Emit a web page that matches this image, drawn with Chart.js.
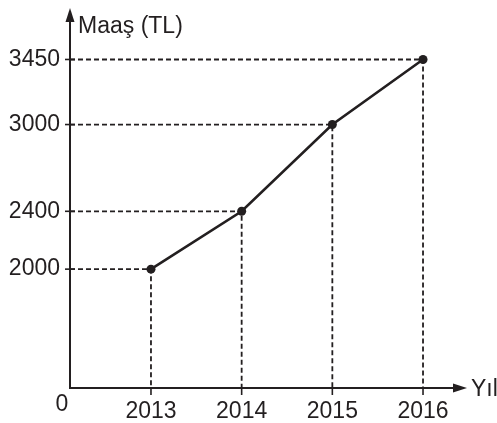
<!DOCTYPE html>
<html>
<head>
<meta charset="utf-8">
<script src="https://cdn.jsdelivr.net/npm/chart.js@4/dist/chart.umd.min.js"></script>
<style>
html,body{margin:0;padding:0;background:#fff;}
canvas{display:block;}
</style>
</head>
<body>
<canvas id="c" width="497" height="423"></canvas>
<script>
const years = [2013, 2014, 2015, 2016];
const salaries = [2000, 2400, 3000, 3450];
const yTickValues = [2000, 2400, 3000, 3450];
const yAxisTitle = 'Maaş (TL)';
const xAxisTitle = 'Yıl';
const originLabel = '0';

const INK = '#231f20';
const FONT = 'Arial, "Liberation Sans", sans-serif';
const X_MIN = 2012.107, X_MAX = 2016.485;
const Y_MIN = 1178, Y_MAX = 3806;

const mainData = years.map((y, i) => ({x: y, y: salaries[i]}));
const guideSets = years.map((y, i) => ({
  data: [{x: X_MIN, y: salaries[i]}, {x: y, y: salaries[i]}, {x: y, y: Y_MIN}],
  borderColor: INK, borderWidth: 1.8, borderDash: [5, 3],
  pointRadius: 0, fill: false, tension: 0, order: 2
}));

const axesPlugin = {
  id: 'axesPlugin',
  afterDatasetsDraw(chart) {
    const ctx = chart.ctx;
    const xs = chart.scales.x, ys = chart.scales.y;
    const ox = xs.getPixelForValue(X_MIN), oy = ys.getPixelForValue(Y_MIN);
    const top = chart.chartArea.top, right = chart.chartArea.right;
    ctx.save();
    ctx.strokeStyle = INK; ctx.fillStyle = INK; ctx.lineWidth = 2; ctx.setLineDash([]);
    ctx.beginPath();
    ctx.moveTo(ox, top + 10); ctx.lineTo(ox, oy); ctx.lineTo(right - 10, oy);
    ctx.stroke();
    ctx.beginPath();
    ctx.moveTo(ox, top); ctx.lineTo(ox - 4.5, top + 14); ctx.lineTo(ox + 4.5, top + 14); ctx.closePath(); ctx.fill();
    ctx.beginPath();
    ctx.moveTo(right, oy); ctx.lineTo(right - 14, oy - 4.5); ctx.lineTo(right - 14, oy + 4.5); ctx.closePath(); ctx.fill();
    ctx.lineWidth = 1.6;
    yTickValues.forEach(v => {
      const py = ys.getPixelForValue(v);
      ctx.beginPath(); ctx.moveTo(ox - 5, py); ctx.lineTo(ox + 5, py); ctx.stroke();
    });
    years.forEach(v => {
      const px = xs.getPixelForValue(v);
      ctx.beginPath(); ctx.moveTo(px, oy); ctx.lineTo(px, oy + 7); ctx.stroke();
    });
    ctx.font = '23px ' + FONT;
    ctx.textBaseline = 'alphabetic';
    ctx.textAlign = 'left';
    ctx.fillText(yAxisTitle, ox + 8, top + 25);
    ctx.fillText(xAxisTitle, right + 4, oy + 8);
    ctx.textAlign = 'center';
    ctx.fillText(originLabel, ox - 8, oy + 23);
    ctx.restore();
  }
};

function zeroPad(s) { s.paddingTop = 0; s.paddingBottom = 0; s.paddingLeft = 0; s.paddingRight = 0; }

new Chart(document.getElementById('c'), {
  type: 'line',
  data: {
    datasets: [
      {
        data: mainData, borderColor: INK, backgroundColor: INK, borderWidth: 2.6,
        pointRadius: 4.5, pointHoverRadius: 4.5, pointBackgroundColor: INK, pointBorderWidth: 0,
        fill: false, tension: 0, order: 0, clip: false
      },
      ...guideSets
    ]
  },
  plugins: [axesPlugin],
  options: {
    responsive: false, animation: false,
    layout: {autoPadding: false, padding: {top: 8, right: 30, left: 0, bottom: 0}},
    plugins: {legend: {display: false}, tooltip: {enabled: false}},
    scales: {
      x: {
        type: 'linear', min: X_MIN, max: X_MAX,
        afterBuildTicks: s => { s.ticks = years.map(v => ({value: v})); },
        afterFit: s => { s.height = 35; zeroPad(s); },
        grid: {display: false, drawTicks: false},
        border: {display: false},
        ticks: {color: INK, font: {size: 23, family: FONT}, padding: 10, callback: v => String(v), maxRotation: 0, autoSkip: false}
      },
      y: {
        type: 'linear', min: Y_MIN, max: Y_MAX,
        afterBuildTicks: s => { s.ticks = yTickValues.map(v => ({value: v})); },
        afterFit: s => { s.width = 70; zeroPad(s); },
        grid: {display: false, drawTicks: false},
        border: {display: false},
        ticks: {color: INK, font: {size: 23, family: FONT}, padding: 10, callback: v => String(v), autoSkip: false}
      }
    }
  }
});
</script>
</body>
</html>
